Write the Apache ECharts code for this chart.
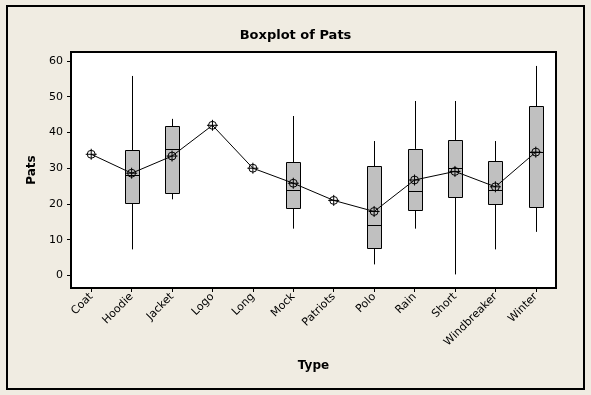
<!DOCTYPE html>
<html>
<head>
<meta charset="utf-8">
<script src="https://cdn.jsdelivr.net/npm/echarts@6/dist/echarts.min.js"></script>
<style>html,body{margin:0;padding:0;background:#f0ece2;}#c{width:591px;height:395px;}</style>
</head>
<body>
<div id="c"></div>
<script>
const categories = ['Coat','Hoodie','Jacket','Logo','Long','Mock','Patriots','Polo','Rain','Short','Windbreaker','Winter'];
const whiskerLow  = [null, 7.3, 21.3, null, null, 13.1, null, 3.1, 13.1, 0.3, 7.3, 12.2];
const q1          = [null, 20.4, 23.2, null, null, 19.0, null, 7.8, 18.2, 21.9, 20.0, 19.1];
const median      = [null, 28.0, 35.4, null, null, 23.8, null, 14.1, 23.5, 30.1, 23.8, 34.5];
const q3          = [null, 35.1, 41.7, null, null, 31.7, null, 30.5, 35.4, 37.9, 31.9, 47.3];
const whiskerHigh = [null, 55.8, 43.8, null, null, 44.6, null, 37.6, 48.8, 48.8, 37.6, 58.6];
const means       = [33.9, 28.6, 33.4, 42.0, 30.0, 25.8, 21.0, 17.9, 26.7, 29.1, 24.8, 34.5];
const yTicks      = [0, 10, 20, 30, 40, 50, 60];

const boxData = [];
categories.forEach(function (c, i) {
  if (q1[i] !== null) boxData.push([i, whiskerLow[i], q1[i], median[i], q3[i], whiskerHigh[i]]);
});

const chart = echarts.init(document.getElementById('c'), null, {renderer: 'canvas'});
const FONT = 'DejaVu Sans';
const BOXW = 14;

function renderBox(params, api) {
  const i = api.value(0);
  const pLo = api.coord([i, api.value(1)]);
  const pQ1 = api.coord([i, api.value(2)]);
  const pMed = api.coord([i, api.value(3)]);
  const pQ3 = api.coord([i, api.value(4)]);
  const pHi = api.coord([i, api.value(5)]);
  const x = Math.round(pQ1[0]) + 0.5;
  const half = BOXW / 2;
  const line = {stroke: '#000', lineWidth: 1};
  return {
    type: 'group',
    children: [
      {type: 'line', shape: {x1: x, y1: pHi[1], x2: x, y2: pQ3[1]}, style: line},
      {type: 'line', shape: {x1: x, y1: pQ1[1], x2: x, y2: pLo[1]}, style: line},
      {type: 'rect', shape: {x: x - half, y: Math.round(pQ3[1]) + 0.5, width: BOXW, height: Math.round(pQ1[1]) - Math.round(pQ3[1])},
        style: {fill: '#c0c0c0', stroke: '#000', lineWidth: 1}},
      {type: 'line', shape: {x1: x - half, y1: Math.round(pMed[1]) + 0.5, x2: x + half, y2: Math.round(pMed[1]) + 0.5}, style: line}
    ]
  };
}

const option = {
  backgroundColor: '#f0ece2',
  animation: false,
  title: {
    text: 'Boxplot of Pats',
    left: 'center', top: 24,
    textStyle: {fontFamily: FONT, fontSize: 13, fontWeight: 'bold', color: '#000'}
  },
  graphic: [{
    type: 'rect', silent: true,
    shape: {x: 7, y: 6, width: 577, height: 383},
    style: {fill: 'none', stroke: '#000', lineWidth: 2}
  }],
  grid: {
    left: 71, top: 52, right: 35, bottom: 107,
    show: true, backgroundColor: '#fff', borderColor: '#000', borderWidth: 2
  },
  xAxis: {
    type: 'category', data: categories, boundaryGap: true,
    name: 'Type', nameLocation: 'middle', nameGap: 72,
    nameTextStyle: {fontFamily: FONT, fontSize: 12, fontWeight: 'bold', color: '#000'},
    axisLine: {show: true, onZero: false, lineStyle: {color: '#000', width: 2}},
    axisTick: {show: true, alignWithLabel: true, length: 4, lineStyle: {color: '#000'}},
    axisLabel: {rotate: 45, margin: 7, interval: 0, fontFamily: FONT, fontSize: 11, color: '#000'},
    splitLine: {show: false}
  },
  yAxis: {
    type: 'value', min: -3.5, max: 62.5,
    name: 'Pats', nameLocation: 'middle', nameGap: 33,
    nameTextStyle: {fontFamily: FONT, fontSize: 12, fontWeight: 'bold', color: '#000'},
    axisLine: {show: true, onZero: false, lineStyle: {color: '#000', width: 2}},
    axisTick: {show: true, length: 4, lineStyle: {color: '#000'}, customValues: yTicks},
    axisLabel: {margin: 8, fontFamily: FONT, fontSize: 11, color: '#000', customValues: yTicks},
    splitLine: {show: false}
  },
  series: [
    {
      type: 'custom', renderItem: renderBox, data: boxData, z: 2,
      encode: {x: 0, y: [1, 2, 3, 4, 5]}
    },
    {
      type: 'line', data: means, z: 3,
      lineStyle: {color: '#000', width: 1},
      symbol: 'path://M0,5L10,5M5,0L5,10M8.6,5A3.6,3.6,0,1,1,1.4,5A3.6,3.6,0,1,1,8.6,5Z',
      symbolSize: 11,
      itemStyle: {color: 'rgba(0,0,0,0)', borderColor: '#000', borderWidth: 1}
    }
  ]
};
chart.setOption(option);
</script>
</body>
</html>
